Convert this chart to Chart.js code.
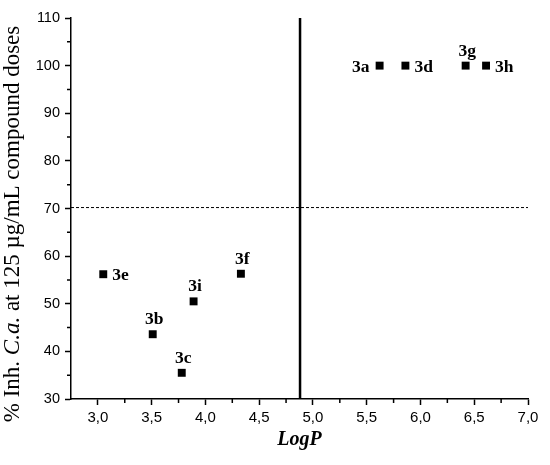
<!DOCTYPE html>
<html>
<head>
<meta charset="utf-8">
<script src="https://cdn.jsdelivr.net/npm/chart.js@4/dist/chart.umd.min.js"></script>
<style>
  html, body { margin: 0; padding: 0; background: #fff; }
  #wrap { width: 550px; height: 465px; position: relative; }
</style>
</head>
<body>
<div id="wrap"><canvas id="c"></canvas></div>
<script>
// ---- data ----
const compoundLabels = ['3a', '3d', '3g', '3h', '3e', '3b', '3c', '3i', '3f'];
const logPValues     = [5.62, 5.86, 6.42, 6.61, 3.05, 3.51, 3.78, 3.89, 4.33];
const inhibitionValues = [100, 100, 100, 100, 56.2, 43.6, 35.5, 50.5, 56.3];
const xTickValues = [3.0, 3.5, 4.0, 4.5, 5.0, 5.5, 6.0, 6.5, 7.0];
const yTickValues = [30, 40, 50, 60, 70, 80, 90, 100, 110];
const logPCutoff = 4.88;
const inhibitionCutoff = 70.2;
const xRange = [2.75, 7.0];
const yRange = [30, 110];

// ---- styling (label placement relative to marker) ----
const labelPlacement = ['left', 'right', 'top', 'right', 'right', 'top', 'top', 'top', 'top'];

const points = logPValues.map((x, i) => ({ x: x, y: inhibitionValues[i] }));

const SERIF = '"Liberation Serif", "Times New Roman", serif';
const SANS = '"Liberation Sans", Arial, sans-serif';

const pointLabelPlugin = {
  id: 'pointLabels',
  afterDatasetsDraw(chart) {
    const meta = chart.getDatasetMeta(0);
    const ctx = chart.ctx;
    ctx.save();
    ctx.fillStyle = '#000';
    ctx.font = 'bold 17.5px ' + SERIF;
    ctx.textBaseline = 'alphabetic';
    meta.data.forEach((el, i) => {
      const p = labelPlacement[i];
      const t = compoundLabels[i];
      if (p === 'left') {
        ctx.textAlign = 'right';
        ctx.fillText(t, el.x - 10, el.y + 6);
      } else if (p === 'right') {
        ctx.textAlign = 'left';
        ctx.fillText(t, el.x + 9, el.y + 6);
      } else {
        ctx.textAlign = 'center';
        ctx.fillText(t, el.x + 1.5, el.y - 10);
      }
    });
    ctx.restore();
  }
};

const minorTickPlugin = {
  id: 'minorTicks',
  afterDraw(chart) {
    const ctx = chart.ctx;
    const xs = chart.scales.x, ys = chart.scales.y;
    ctx.save();
    ctx.strokeStyle = '#000';
    ctx.lineWidth = 1.5;
    ctx.beginPath();
    for (let i = 0; i < xTickValues.length - 1; i++) {
      const v = (xTickValues[i] + xTickValues[i + 1]) / 2;
      const px = xs.getPixelForValue(v);
      ctx.moveTo(px, ys.bottom);
      ctx.lineTo(px, ys.bottom + 4);
    }
    for (let i = 0; i < yTickValues.length - 1; i++) {
      const v = (yTickValues[i] + yTickValues[i + 1]) / 2;
      const py = ys.getPixelForValue(v);
      ctx.moveTo(xs.left, py);
      ctx.lineTo(xs.left - 4, py);
    }
    ctx.stroke();
    ctx.restore();
  }
};

const yTitlePlugin = {
  id: 'yTitle',
  afterDraw(chart) {
    const ctx = chart.ctx;
    const parts = [
      { t: '% Inh. ', f: '23px ' + SERIF },
      { t: 'C.a.', f: 'italic 23px ' + SERIF },
      { t: ' at 125 µg/mL compound doses', f: '23px ' + SERIF }
    ];
    ctx.save();
    let total = 0;
    parts.forEach(p => { ctx.font = p.f; p.w = ctx.measureText(p.t).width; total += p.w; });
    ctx.translate(19, 224);
    ctx.rotate(-Math.PI / 2);
    ctx.fillStyle = '#000';
    ctx.textBaseline = 'alphabetic';
    ctx.textAlign = 'left';
    let x = -total / 2;
    parts.forEach(p => { ctx.font = p.f; ctx.fillText(p.t, x, 0); x += p.w; });
    ctx.restore();
  }
};

new Chart(document.getElementById('c'), {
  type: 'scatter',
  data: {
    datasets: [
      {
        label: 'compounds',
        data: points,
        pointStyle: 'rect',
        pointRadius: 5.6,
        pointHoverRadius: 5.6,
        backgroundColor: '#000',
        borderColor: '#000',
        borderWidth: 0
      },
      {
        label: 'LogP cutoff',
        type: 'line',
        data: [{ x: logPCutoff, y: yRange[0] }, { x: logPCutoff, y: yRange[1] }],
        borderColor: '#000',
        borderWidth: 2.5,
        pointRadius: 0,
        fill: false
      },
      {
        label: 'Inhibition cutoff',
        type: 'line',
        data: [{ x: xRange[0], y: inhibitionCutoff }, { x: xRange[1], y: inhibitionCutoff }],
        borderColor: '#000',
        borderWidth: 1,
        borderDash: [3, 2],
        pointRadius: 0,
        fill: false
      }
    ]
  },
  options: {
    responsive: true,
    maintainAspectRatio: false,
    animation: false,
    events: [],
    layout: { padding: { top: 18, right: 22, left: 0, bottom: 0 } },
    plugins: { legend: { display: false }, tooltip: { enabled: false } },
    scales: {
      x: {
        type: 'linear',
        min: xRange[0],
        max: xRange[1],
        afterBuildTicks(scale) { scale.ticks = xTickValues.map(v => ({ value: v })); },
        afterFit(scale) { scale.height = 66; },
        grid: { display: true, drawOnChartArea: false, drawTicks: true, tickLength: 6, tickWidth: 1.5, tickColor: '#000' },
        border: { display: true, color: '#000', width: 1.5 },
        ticks: {
          color: '#000',
          font: { family: SANS, size: 15 },
          padding: 4,
          maxRotation: 0,
          callback: v => v.toFixed(1).replace('.', ',')
        },
        title: {
          display: true,
          text: 'LogP',
          color: '#000',
          font: { family: SERIF, size: 20, style: 'italic', weight: 'bold' },
          padding: { top: 0, bottom: 13 }
        }
      },
      y: {
        type: 'linear',
        min: yRange[0],
        max: yRange[1],
        afterBuildTicks(scale) { scale.ticks = yTickValues.map(v => ({ value: v })); },
        afterFit(scale) { scale.width = 71; },
        grid: { display: true, drawOnChartArea: false, drawTicks: true, tickLength: 6, tickWidth: 1.5, tickColor: '#000' },
        border: { display: true, color: '#000', width: 1.5 },
        ticks: {
          color: '#000',
          font: { family: SANS, size: 14.5 },
          padding: 5,
          callback: v => String(v)
        }
      }
    }
  },
  plugins: [pointLabelPlugin, minorTickPlugin, yTitlePlugin]
});
</script>
</body>
</html>
